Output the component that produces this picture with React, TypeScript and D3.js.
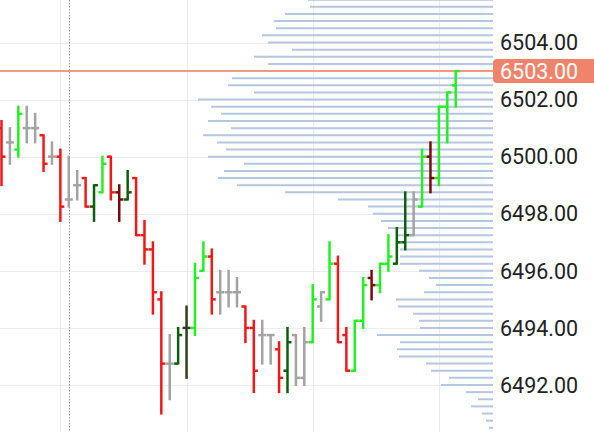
import React from "react";
import * as d3 from "d3";

const W = 594;
const H = 432;

// OHLC bars (one per period)
const opens = [6501.0, 6500.5, 6500.25, 6501.0, 6501.0, 6500.75, 6500.0, 6500.0, 6498.5, 6499.0, 6499.25, 6498.25, 6498.75, 6500.0, 6498.75, 6498.5, 6499.25, 6497.25, 6496.75, 6495.0, 6492.75, 6492.75, 6494.0, 6494.0, 6496.0, 6496.5, 6495.25, 6495.25, 6495.25, 6494.75, 6494.0, 6493.75, 6493.75, 6493.25, 6492.5, 6493.75, 6492.25, 6493.5, 6494.75, 6495.0, 6496.25, 6493.75, 6492.5, 6494.25, 6495.75, 6495.5, 6496.25, 6496.25, 6497.0, 6497.25, 6498.25, 6500.0, 6499.25, 6501.75, 6502.5];
const highs = [6501.25, 6501.0, 6501.75, 6501.75, 6501.5, 6500.75, 6500.5, 6500.25, 6500.0, 6499.5, 6499.25, 6499.0, 6500.0, 6500.0, 6499.0, 6499.5, 6499.25, 6497.75, 6497.0, 6495.25, 6493.75, 6494.0, 6494.75, 6496.25, 6497.0, 6496.75, 6496.0, 6496.0, 6495.75, 6494.75, 6494.25, 6494.25, 6493.75, 6493.5, 6494.0, 6493.75, 6494.0, 6495.5, 6495.25, 6497.0, 6496.5, 6494.0, 6494.25, 6495.75, 6496.0, 6496.25, 6497.25, 6497.5, 6498.75, 6498.75, 6500.25, 6500.5, 6501.75, 6502.25, 6503.0];
const lows = [6499.0, 6499.75, 6500.0, 6500.5, 6500.5, 6499.5, 6499.75, 6497.75, 6498.25, 6498.5, 6498.25, 6497.75, 6498.75, 6498.5, 6497.75, 6498.5, 6497.25, 6496.25, 6494.5, 6491.0, 6491.5, 6492.75, 6492.25, 6493.75, 6496.0, 6494.5, 6494.5, 6494.75, 6494.75, 6493.5, 6491.75, 6492.75, 6492.75, 6491.75, 6491.75, 6492.0, 6492.0, 6493.5, 6494.25, 6495.0, 6493.5, 6492.5, 6492.5, 6494.0, 6495.0, 6495.25, 6496.0, 6496.25, 6496.75, 6497.25, 6498.25, 6498.75, 6499.0, 6500.5, 6501.75];
const closes = [6500.0, 6500.5, 6501.5, 6501.0, 6501.0, 6499.75, 6500.0, 6498.25, 6498.5, 6499.0, 6498.25, 6499.0, 6499.75, 6498.75, 6498.5, 6498.75, 6497.25, 6496.75, 6495.25, 6492.75, 6492.75, 6493.75, 6494.0, 6495.75, 6496.5, 6495.0, 6495.25, 6495.25, 6495.25, 6494.0, 6492.5, 6493.75, 6493.75, 6492.25, 6493.5, 6492.25, 6493.5, 6495.0, 6495.25, 6496.25, 6493.5, 6492.5, 6494.25, 6495.5, 6495.5, 6496.25, 6496.5, 6497.0, 6497.25, 6498.5, 6500.0, 6499.25, 6501.75, 6502.25, 6503.0];
// bar colour class: u = up, d = down, U = strong-up (dark green), D = dark red, n = neutral, k = dark olive
const barKinds = ["d", "n", "u", "n", "n", "d", "n", "d", "n", "n", "d", "U", "u", "d", "D", "U", "d", "d", "d", "d", "n", "U", "k", "u", "u", "d", "n", "n", "n", "d", "d", "n", "n", "d", "U", "n", "n", "u", "n", "u", "d", "d", "u", "u", "D", "u", "u", "U", "U", "n", "u", "D", "u", "u", "u"];

// Volume profile (price level -> volume)
const profilePrices = [6505.5, 6505.25, 6505.0, 6504.75, 6504.5, 6504.25, 6504.0, 6503.75, 6503.5, 6503.25, 6503.0, 6502.75, 6502.5, 6502.25, 6502.0, 6501.75, 6501.5, 6501.25, 6501.0, 6500.75, 6500.5, 6500.25, 6500.0, 6499.75, 6499.5, 6499.25, 6499.0, 6498.75, 6498.5, 6498.25, 6498.0, 6497.75, 6497.5, 6497.25, 6497.0, 6496.75, 6496.5, 6496.25, 6496.0, 6495.75, 6495.5, 6495.25, 6495.0, 6494.75, 6494.5, 6494.25, 6494.0, 6493.75, 6493.5, 6493.25, 6493.0, 6492.75, 6492.5, 6492.25, 6492.0, 6491.75, 6491.5, 6491.25, 6491.0, 6490.75, 6490.5];
const profileVolumes = [185, 183, 208, 219, 217, 231, 225, 201, 239, 225, 253, 261, 265, 239, 295, 282, 272, 285, 262, 290, 276, 267, 285, 249, 269, 275, 256, 208, 155, 125, 120, 112, 105, 96, 90, 93, 93, 93, 74, 64, 57, 69, 97, 95, 80, 74, 73, 116, 93, 96, 94, 67, 62, 44, 52, 27, 15, 22, 11, 7, 4];

const priceTicks = [6492, 6494, 6496, 6498, 6500, 6502, 6504];
const lastPrice = 6503.0;
const gridBars = [7, 22, 37, 52];
const sessionBar = 8;

const colors: Record<string, string> = {
  u: "#22f022",
  d: "#f01818",
  U: "#0b5e0b",
  D: "#7a0a0a",
  n: "#a3a3a3",
  k: "#2f3f1c",
};

export default function App() {
  const plotRight = 493;
  const y = d3.scaleLinear().domain([6492, 6504]).range([385, 42.5]);
  const x = d3.scaleLinear().domain([0, opens.length - 1]).range([1.5, 455.7]);
  const vx = d3.scaleLinear().domain([0, 295]).range([plotRight, plotRight - 295]);
  const tick = 4;
  const sw = 2.5;

  return (
    <svg
      width={W}
      height={H}
      style={{ position: "absolute", left: 0, top: 0, background: "#fff" }}
      fontFamily="Roboto, sans-serif"
    >
      <rect x={0} y={0} width={W} height={H} fill="#ffffff" />
      {/* grid */}
      {priceTicks.map((p) => (
        <line key={"hg" + p} x1={0} x2={plotRight} y1={Math.round(y(p)) + 0.5} y2={Math.round(y(p)) + 0.5} stroke="#ececec" strokeWidth={1} />
      ))}
      {gridBars.map((i) => (
        <line key={"vg" + i} x1={Math.round(x(i)) + 0.5} x2={Math.round(x(i)) + 0.5} y1={0} y2={H} stroke="#ececec" strokeWidth={1} />
      ))}
      <line x1={Math.round(x(sessionBar)) + 0.5} x2={Math.round(x(sessionBar)) + 0.5} y1={0} y2={H} stroke="#9a9a9a" strokeWidth={1} strokeDasharray="1.5,1.5" />
      {/* volume profile */}
      {profilePrices.map((p, i) => (
        <line key={"vp" + p} x1={vx(profileVolumes[i])} x2={plotRight} y1={y(p)} y2={y(p)} stroke="#b4c6e0" strokeWidth={2} />
      ))}
      {/* last price line */}
      <line x1={0} x2={plotRight} y1={y(lastPrice)} y2={y(lastPrice)} stroke="#f09a84" strokeWidth={2} />
      {/* OHLC bars */}
      {opens.map((o, i) => {
        const cx = x(i);
        const c = colors[barKinds[i]];
        return (
          <g key={"b" + i} stroke={c} strokeWidth={sw}>
            <line x1={cx} x2={cx} y1={y(highs[i]) - 1} y2={y(lows[i]) + 1} />
            <line x1={cx - tick} x2={cx} y1={y(o)} y2={y(o)} />
            <line x1={cx} x2={cx + tick} y1={y(closes[i])} y2={y(closes[i])} />
          </g>
        );
      })}
      {/* price axis */}
      {priceTicks.map((p) => (
        <text key={"t" + p} x={500} y={y(p)} dy="0.36em" fontSize={21.5} fill="#222">
          {p.toFixed(2)}
        </text>
      ))}
      <rect x={plotRight} y={y(lastPrice) - 12} width={110} height={24} rx={4} fill="#f0836b" />
      <text x={500} y={y(lastPrice)} dy="0.36em" fontSize={21.5} fill="#ffffff">
        {lastPrice.toFixed(2)}
      </text>
    </svg>
  );
}
